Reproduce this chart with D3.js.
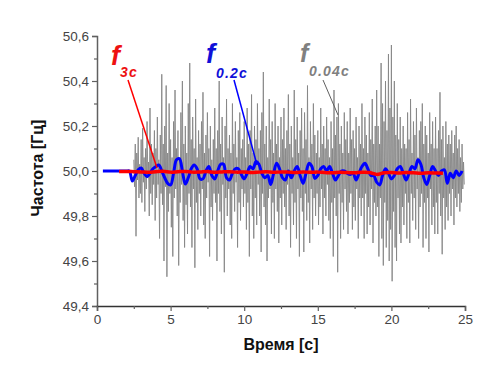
<!DOCTYPE html>
<html><head><meta charset="utf-8">
<script src="https://cdn.jsdelivr.net/npm/d3@7/dist/d3.min.js"></script>
<style>body{margin:0;background:#fff}svg{display:block}</style>
</head><body>
<script>
// ---- data ----
const xTicks = [0, 5, 10, 15, 20, 25];
const yTicks = [49.4, 49.6, 49.8, 50.0, 50.2, 50.4, 50.6];
const yTickLabels = ["49,4", "49,6", "49,8", "50,0", "50,2", "50,4", "50,6"];
const xLabel = "Время [с]";
const yLabel = "Частота [Гц]";

// raw frequency (gray), sampled every 0.05 s starting at 2.5 s
const grayStart = 2.5, grayStep = 0.05;
const grayValues = [
  50.05, 49.93, 50.12, 49.71, 50.08, 49.96, 50.15, 49.88, 50.03, 49.90,
  50.14, 49.86, 50.19, 49.95, 50.06, 49.82, 50.10, 49.92, 50.22, 49.97, 50.04, 49.80, 50.28, 49.90, 50.12, 49.85, 50.08, 49.94, 50.18, 49.78,
  50.10, 49.88, 50.24, 49.94, 50.05, 49.70, 50.16, 49.90, 50.43, 49.85, 50.12, 49.60, 50.20, 49.93, 50.38, 49.53, 50.08, 49.82, 50.30, 49.90,
  50.14, 49.75, 50.06, 49.62, 50.22, 49.88, 50.36, 49.92, 50.10, 49.80, 50.18, 49.58, 50.05, 49.86, 50.26, 49.94, 50.40, 49.78, 50.12, 49.66,
  50.20, 49.85, 50.08, 49.72, 50.30, 49.90, 50.48, 49.84, 50.14, 49.66, 50.24, 49.92, 50.10, 49.57, 50.32, 49.86, 50.06, 49.74, 50.18, 49.90,
  50.12, 49.80, 50.22, 49.92, 50.35, 49.76, 50.08, 49.70, 50.16, 49.88, 50.26, 49.95, 50.10, 49.62, 50.20, 49.84, 50.05, 49.78, 50.14, 49.90,
  50.28, 49.86, 50.10, 49.60, 50.18, 49.90, 50.40, 49.82, 50.12, 49.72, 50.24, 49.94, 50.06, 49.55, 50.20, 49.88, 50.32, 49.80, 50.10, 49.92,
  50.16, 49.76, 50.08, 49.70, 50.30, 49.90, 50.12, 49.82, 50.22, 49.95, 50.06, 49.66, 50.18, 49.86, 50.26, 49.78, 50.10, 49.92, 50.14, 49.84,
  50.22, 49.90, 50.06, 49.74, 50.28, 49.86, 50.12, 49.62, 50.18, 49.92, 50.34, 49.80, 50.08, 49.70, 50.20, 49.88, 50.14, 49.76, 50.30, 49.94,
  50.10, 49.80, 50.18, 49.64, 50.26, 49.90, 50.44, 49.84, 50.12, 49.76, 50.20, 49.60, 50.06, 49.88, 50.32, 49.92, 50.14, 49.72, 50.22, 49.86,
  50.08, 49.70, 50.30, 49.92, 50.12, 49.82, 50.20, 49.68, 50.06, 49.88, 50.24, 49.76, 50.14, 49.90, 50.28, 49.84, 50.10, 49.74, 50.18, 49.94,
  50.34, 49.80, 50.12, 49.66, 50.20, 49.90, 50.06, 49.76, 50.36, 49.86, 50.14, 49.70, 50.24, 49.92, 50.08, 49.62, 50.18, 49.88, 50.28, 49.82,
  50.10, 49.64, 50.26, 49.90, 50.14, 49.78, 50.38, 49.86, 50.06, 49.68, 50.22, 49.92, 50.12, 49.74, 50.30, 49.88, 50.16, 49.80, 50.08, 49.90,
  50.18, 49.76, 50.06, 49.84, 50.28, 49.92, 50.12, 49.72, 50.20, 49.88, 50.10, 49.80, 50.24, 49.94, 50.14, 49.78, 50.06, 49.70, 50.22, 49.86,
  50.10, 49.62, 50.36, 49.88, 50.16, 49.80, 50.24, 49.55, 50.30, 49.90, 50.12, 49.70, 50.20, 49.86, 50.08, 49.74, 50.26, 49.92, 50.14, 49.82,
  50.22, 49.72, 50.08, 49.86, 50.28, 49.90, 50.14, 49.74, 50.18, 49.84, 50.10, 49.78, 50.24, 49.92, 50.06, 49.70, 50.20, 49.88, 50.12, 49.80,
  50.30, 49.88, 50.10, 49.70, 50.24, 49.90, 50.16, 49.72, 50.08, 49.84, 50.26, 49.76, 50.14, 49.92, 50.32, 49.68, 50.12, 49.86, 50.20, 49.80,
  50.36, 49.84, 50.20, 49.62, 50.12, 49.88, 50.48, 49.70, 50.30, 49.58, 50.22, 49.86, 50.40, 49.66, 50.18, 49.78, 50.52, 49.60, 50.28, 49.74,
  50.56, 49.51, 50.24, 49.82, 50.40, 49.66, 50.16, 49.60, 50.30, 49.88, 50.14, 49.72, 50.24, 49.68, 50.10, 49.84, 50.20, 49.76, 50.12, 49.90,
  50.10, 49.70, 50.26, 49.86, 50.14, 49.68, 50.32, 49.90, 50.08, 49.78, 50.22, 49.88, 50.16, 49.74, 50.28, 49.92, 50.06, 49.70, 50.18, 49.84,
  50.22, 49.90, 50.30, 49.66, 50.12, 49.86, 50.20, 49.70, 50.16, 49.88, 50.08, 49.64, 50.26, 49.92, 50.12, 49.76, 50.22, 49.84, 50.10, 49.72,
  50.24, 49.86, 50.10, 49.72, 50.18, 49.90, 50.35, 49.80, 50.14, 49.63, 50.20, 49.88, 50.06, 49.74, 50.22, 49.84, 50.12, 49.78, 50.16, 49.90,
  50.12, 49.80, 50.18, 49.92, 50.08, 49.76, 50.16, 49.88, 50.20, 49.84, 50.10, 49.90, 50.14, 49.82, 50.06, 49.86, 50.12, 49.92, 50.04, 49.94
];

// f_0.2c (blue), sampled every 0.2 s starting at 0.4 s
const blueStart = 0.4, blueStep = 0.2;
const blueValues = [
  50.000, 50.000, 50.000, 50.000, 50.000, 50.000, 50.000, 50.000, 50.000, 50.000,
  49.955, 49.980, 50.005, 50.013, 49.990, 49.975, 49.990, 50.010, 50.020, 50.027,
  50.000, 49.970, 49.945, 49.938, 49.990, 50.050, 50.055, 50.000, 49.942, 49.970,
  50.010, 50.027, 50.010, 49.965, 49.965, 50.000, 50.020, 49.980, 49.965, 50.000,
  50.030, 50.030, 49.970, 49.960, 49.990, 50.010, 50.010, 49.985, 49.965, 49.990,
  50.020, 50.010, 50.042, 50.030, 49.990, 49.970, 49.980, 49.940, 49.990, 50.035,
  50.010, 49.970, 49.960, 50.000, 49.970, 50.000, 50.020, 49.980, 49.945, 49.990,
  50.034, 50.020, 49.967, 49.980, 50.010, 50.020, 50.000, 50.020, 49.990, 49.960,
  49.980, 50.000, 50.000, 49.990, 49.985, 49.990, 49.960, 49.990, 50.020, 50.034,
  50.010, 49.980, 49.980, 49.950, 49.938, 49.980, 50.010, 49.990, 49.965, 49.980,
  50.010, 50.020, 49.990, 49.960, 49.990, 50.020, 50.010, 50.050, 50.030, 49.970,
  49.940, 49.980, 50.020, 50.000, 49.980, 50.000, 50.005, 49.945, 49.990, 49.970,
  50.000, 49.980, 50.000
];

// f_3c (red), sampled every 0.5 s starting at 1.5 s
const redStart = 1.5, redStep = 0.5;
const redValues = [
  49.998, 49.998, 49.997, 49.996, 49.994, 49.997, 49.999, 49.995, 49.997, 49.998,
  49.995, 49.996, 49.998, 49.994, 49.996, 49.997, 49.995, 49.996, 49.993, 49.995,
  49.997, 49.994, 49.996, 49.995, 49.993, 49.996, 49.994, 49.995, 49.993, 49.992,
  49.994, 49.993, 49.992, 49.994, 49.993, 49.985, 49.992, 49.993, 49.991, 49.993,
  49.992, 49.990, 49.992, 49.991, 49.990
];

// ---- chart ----
const W = 500, H = 365;
const svg = d3.select("body").append("svg").attr("width", W).attr("height", H)
  .style("font-family", "Arial, 'Liberation Sans', sans-serif");

const x = d3.scaleLinear().domain([0, 25]).range([97, 465]);
const y = d3.scaleLinear().domain([49.4, 50.6]).range([306, 36]);

const toPts = (start, step, vals) => vals.map((v, i) => [start + i * step, v]);
const line = d3.line().x(d => x(d[0])).y(d => y(d[1]));

svg.append("path").datum(toPts(grayStart, grayStep, grayValues))
  .attr("d", line).attr("fill", "none").attr("stroke", "#868686").attr("stroke-width", 0.9);

svg.append("path").datum(toPts(blueStart, blueStep, blueValues))
  .attr("d", d3.line().x(d => x(d[0])).y(d => y(d[1])).curve(d3.curveCatmullRom)).attr("fill", "none")
  .attr("stroke", "#0000ff").attr("stroke-width", 3).attr("stroke-linejoin", "round");

svg.append("path").datum(toPts(redStart, redStep, redValues))
  .attr("d", d3.line().x(d => x(d[0])).y(d => y(d[1])).curve(d3.curveCatmullRom))
  .attr("fill", "none").attr("stroke", "#ff0000").attr("stroke-width", 3.5);

// axes
const axisColor = "#606060";
const yAxis = svg.append("g").attr("transform", "translate(97,0)")
  .call(d3.axisLeft(y).tickValues(yTicks).tickFormat((d, i) => yTickLabels[i]).tickSize(5).tickPadding(3));
const yMinor = svg.append("g").attr("transform", "translate(97,0)")
  .call(d3.axisLeft(y).tickValues([49.5, 49.7, 49.9, 50.1, 50.3, 50.5]).tickFormat("").tickSize(3));
const xAxis = svg.append("g").attr("transform", "translate(0,306)")
  .call(d3.axisBottom(x).tickValues(xTicks).tickSize(5).tickPadding(3));
const xMinor = svg.append("g").attr("transform", "translate(0,306)")
  .call(d3.axisBottom(x).tickValues([2.5, 7.5, 12.5, 17.5, 22.5]).tickFormat("").tickSize(3));
[yAxis, yMinor, xAxis, xMinor].forEach(g => {
  g.select(".domain").attr("stroke", axisColor).attr("stroke-width", 1.5);
  g.selectAll(".tick line").attr("stroke", axisColor).attr("stroke-width", 1.2);
  g.selectAll(".tick text").attr("fill", "#444").style("font-size", "13.5px")
    .style("font-family", "Arial, 'Liberation Sans', sans-serif");
});
yMinor.select(".domain").remove();
xMinor.select(".domain").remove();
xAxis.select(".domain").attr("stroke", "#333");

svg.append("text").attr("x", 281).attr("y", 350).attr("text-anchor", "middle")
  .style("font-size", "16px").style("font-weight", "bold").attr("fill", "#111").text(xLabel);
svg.append("text").attr("transform", "translate(43,168) rotate(-90)").attr("text-anchor", "middle")
  .style("font-size", "16px").style("font-weight", "bold").attr("fill", "#111").text(yLabel);

// annotations
function label(xp, yp, sub, xs, ys, color, fsize) {
  svg.append("text").attr("x", xp).attr("y", yp).attr("fill", color)
    .style("font-size", fsize + "px").style("font-weight", "bold").style("font-style", "italic").text("f");
  svg.append("text").attr("x", xs).attr("y", ys).attr("fill", color)
    .style("font-size", "14px").style("font-weight", "bold").style("font-style", "italic")
    .style("letter-spacing", "1.2px").text(sub);
}
svg.append("line").attr("x1", 128).attr("y1", 80).attr("x2", 157).attr("y2", 168)
  .attr("stroke", "#ff0000").attr("stroke-width", 1.5);
svg.append("line").attr("x1", 234).attr("y1", 80).attr("x2", 257).attr("y2", 165)
  .attr("stroke", "#0000ff").attr("stroke-width", 1.5);
svg.append("line").attr("x1", 323).attr("y1", 80).attr("x2", 338).attr("y2", 115)
  .attr("stroke", "#606060").attr("stroke-width", 1);
label(111, 65, "3c", 120, 77, "#ee1111", 27);
label(206, 63, "0.2c", 216, 78, "#1010d8", 27);
label(300, 62, "0.04c", 309, 76, "#808080", 25);
</script>
</body></html>
